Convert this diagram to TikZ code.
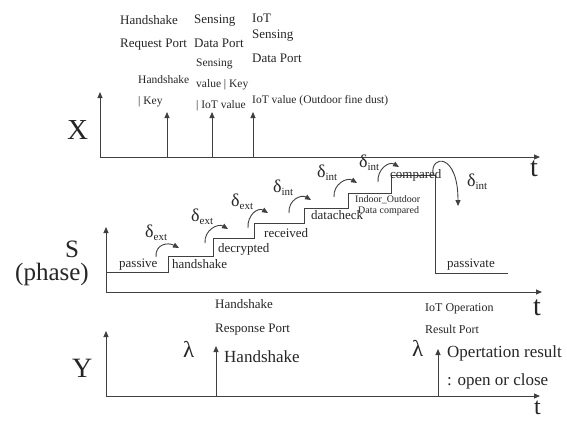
\documentclass[tikz,border=0pt]{standalone}
\usepackage{fontspec}
\setmainfont{Liberation Serif}
\usetikzlibrary{arrows.meta}
\newcommand\fsz[1]{\fontsize{#1}{#1}\selectfont}
\tikzset{
  ln/.style={line width=0.9pt, draw=black!75},
  ax/.style={ln, -{Triangle[length=6pt,width=5pt]}},
  curv/.style={ln, -{Triangle[length=6pt,width=5pt]}},
  txt/.style={anchor=base west, inner sep=0pt, text=black!85},
  tA/.style={txt, font=\fsz{13}},
  tB/.style={txt, font=\fsz{11.5}},
  tC/.style={txt, font=\fsz{10}},
  tD/.style={txt, font=\fsz{17}},
  tBig/.style={txt, font=\fsz{28}},
  dl/.style={txt, font=\fsz{18}},
  lam/.style={txt, font=\fsz{23}},
}
\newcommand\dsub[1]{δ\raisebox{-3.5pt}{\fsz{11}#1}}
\begin{document}
\begin{tikzpicture}[x=1pt,y=-1pt]
\useasboundingbox (0,0) rectangle (567,421);
\fill[white] (0,0) rectangle (567,421);

% ---------- X ----------
\coordinate (xo) at (100,157);
\coordinate (xy) at (100,92);
\coordinate (xt) at (540,157);
\draw[ax] (xo) -- (xy);
\draw[ax] (xo) -- (xt);
\coordinate (xa1) at (167,157); \coordinate (xa1t) at (167,112);
\coordinate (xa2) at (212,157); \coordinate (xa2t) at (212,112);
\coordinate (xa3) at (253,157); \coordinate (xa3t) at (253,112);
\draw[ax] (xa1) -- (xa1t);
\draw[ax] (xa2) -- (xa2t);
\draw[ax] (xa3) -- (xa3t);
\node[tBig, font=\fsz{29}] (lX) at (67,139) {X};
\node[tBig] (tX) at (530,176) {t};

\node[tA] (h1) at (120,24) {Handshake};
\node[tA] (h2) at (120,47) {Request Port};
\node[tA] (s1) at (194,23) {Sensing};
\node[tA] (s2) at (194,47) {Data Port};
\node[tA] (i1) at (252,22) {IoT};
\node[tA] (i2) at (252,38) {Sensing};
\node[tA] (i3) at (252,62) {Data Port};
\node[tB] (hk1) at (138,83) {Handshake};
\node[tB] (hk2) at (138,104) {| Key};
\node[tB] (sv1) at (196,66) {Sensing};
\node[tB] (sv2) at (196,87) {value | Key};
\node[tB] (sv3) at (196,108) {| IoT value};
\node[tB] (iv) at (252,103) {IoT value (Outdoor fine dust)};

% ---------- S ----------
\coordinate (so) at (106,292);
\coordinate (sy) at (106,227);
\coordinate (st) at (542,292);
\draw[ax] (so) -- (sy);
\draw[ax] (so) -- (st);
\node[tBig, font=\fsz{25}] (lS) at (65,257) {S};
\node[tBig, font=\fsz{25}] (lP) at (15,280) {(phase)};
\node[tBig] (tS) at (533,315) {t};

\draw[ln] (106,272) -- (168,272) -- (168,256) -- (213,256) -- (213,238)
  -- (254,238) -- (254,223) -- (304,223) -- (304,208) -- (348,208)
  -- (348,193) -- (391,193) -- (391,175) -- (435,175) -- (435,273) -- (508,273);

\node[tA] (p1) at (119,267) {passive};
\node[tA] (p2) at (172,268) {handshake};
\node[tA] (p3) at (218,252) {decrypted};
\node[tA] (p4) at (264,237) {received};
\node[tA] (p5) at (311,219) {datacheck};
\node[tC] (p6a) at (355,202) {Indoor\_Outdoor};
\node[tC] (p6b) at (358,213) {Data compared};
\node[tA] (p7) at (390,178) {compared};
\node[tA] (p8) at (447,267) {passivate};

\node[dl] (d1) at (145,237) {\dsub{ext}};
\node[dl] (d2) at (191,221) {\dsub{ext}};
\node[dl] (d3) at (231,206) {\dsub{ext}};
\node[dl] (d4) at (273,192) {\dsub{int}};
\node[dl] (d5) at (317,177) {\dsub{int}};
\node[dl] (d6) at (359,167) {\dsub{int}};
\node[dl] (d7) at (467,186) {\dsub{int}};

\coordinate (c1s) at (156,257); \coordinate (c1e) at (179,248);
\coordinate (c2s) at (205,243); \coordinate (c2e) at (228,229);
\coordinate (c3s) at (248,228); \coordinate (c3e) at (268,213);
\coordinate (c4s) at (289,213); \coordinate (c4e) at (311,200);
\coordinate (c5s) at (334,197); \coordinate (c5e) at (357,183);
\coordinate (c6s) at (378,182); \coordinate (c6e) at (399,167);
\coordinate (c7s) at (433,174); \coordinate (c7e) at (458,206);
\draw[curv] (c1s) .. controls (155,244) and (168,242) .. (c1e);
\draw[curv] (c2s) .. controls (204,230) and (218,223) .. (c2e);
\draw[curv] (c3s) .. controls (247,215) and (258,207) .. (c3e);
\draw[curv] (c4s) .. controls (288,200) and (301,194) .. (c4e);
\draw[curv] (c5s) .. controls (333,184) and (347,177) .. (c5e);
\draw[curv] (c6s) .. controls (377,169) and (389,161) .. (c6e);
\draw[curv] (c7s) .. controls (430,155) and (458,152) .. (c7e);

% ---------- Y ----------
\coordinate (yo) at (106,396);
\coordinate (yy) at (106,331);
\coordinate (yt) at (540,396);
\draw[ax] (yo) -- (yy);
\draw[ax] (yo) -- (yt);
\node[tBig] (lY) at (72,377) {Y};
\node[tBig, font=\fsz{24}] (tY) at (534,414) {t};
\coordinate (ya1) at (216,396); \coordinate (ya1t) at (216,346);
\coordinate (ya2) at (438,396); \coordinate (ya2t) at (438,349);
\draw[ax] (ya1) -- (ya1t);
\draw[ax] (ya2) -- (ya2t);
\node[tA] (r1) at (215,308) {Handshake};
\node[tA] (r2) at (215,332) {Response Port};
\node[txt, font=\fsz{12}] (o1) at (425,311) {IoT Operation};
\node[txt, font=\fsz{12}] (o2) at (425,333) {Result Port};
\node[lam] (lam1) at (183,357) {λ};
\node[lam] (lam2) at (412,356) {λ};
\node[tD] (hs) at (224,362) {Handshake};
\node[tD] (or1) at (447,357) {Opertation result};
\node[tD] (or2) at (447,385) {: open or close};
\end{tikzpicture}
\end{document}
